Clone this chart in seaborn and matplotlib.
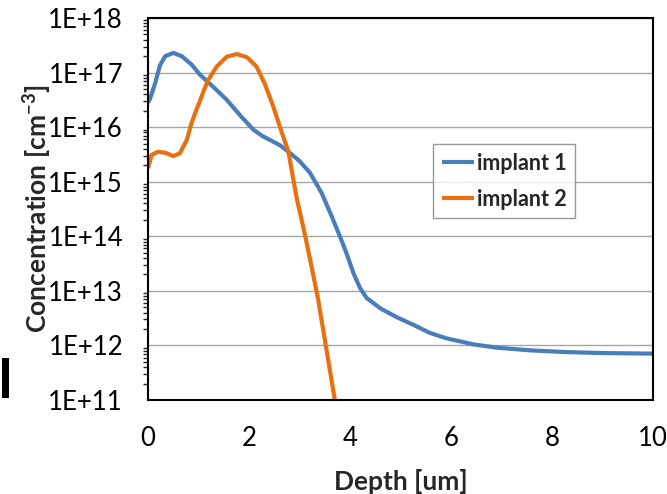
import numpy as np
import pandas as pd
import matplotlib
matplotlib.use("Agg")
import matplotlib.pyplot as plt
from matplotlib.ticker import FuncFormatter, LogLocator, FixedLocator
from matplotlib.patches import Rectangle
import seaborn as sns

# ---- data (concentration as log10 of cm^-3) ----
depth_1 = [0.0, 0.04, 0.14, 0.24, 0.34, 0.50, 0.67, 0.87, 1.03, 1.29, 1.56, 1.82, 2.09, 2.28,
           2.61, 2.78, 3.00, 3.21, 3.44, 3.64, 3.80, 3.93, 4.07, 4.20, 4.33, 4.60, 4.92,
           5.25, 5.58, 5.91, 6.44, 6.90, 7.56, 8.22, 9.00, 10.0]
log_conc_1 = [16.45, 16.52, 16.80, 17.14, 17.30, 17.36, 17.30, 17.14, 16.96, 16.74, 16.50,
              16.22, 15.95, 15.83, 15.67, 15.55, 15.38, 15.16, 14.79, 14.36, 14.00, 13.69,
              13.32, 13.05, 12.87, 12.68, 12.52, 12.38, 12.23, 12.13, 12.02, 11.96, 11.91,
              11.88, 11.86, 11.85]

depth_2 = [0.0, 0.02, 0.07, 0.20, 0.34, 0.50, 0.63, 0.77, 0.86, 0.96, 1.03, 1.10, 1.19, 1.36,
           1.56, 1.76, 1.96, 2.15, 2.31, 2.48, 2.61, 2.78, 2.94, 3.11, 3.24, 3.37, 3.70]
log_conc_2 = [15.25, 15.31, 15.49, 15.55, 15.53, 15.47, 15.52, 15.77, 16.07, 16.32, 16.48,
              16.66, 16.86, 17.11, 17.29, 17.34, 17.28, 17.11, 16.80, 16.38, 16.01, 15.55,
              14.72, 14.02, 13.44, 12.84, 11.0]

series_names = ["implant 1", "implant 2"]
colors = ["#4a7ebb", "#e8700f"]
x_ticks = [0, 2, 4, 6, 8, 10]
y_decades = [1e11, 1e12, 1e13, 1e14, 1e15, 1e16, 1e17, 1e18]

df = pd.concat([
    pd.DataFrame({"Depth": depth_1, "Conc": np.power(10.0, log_conc_1), "series": series_names[0]}),
    pd.DataFrame({"Depth": depth_2, "Conc": np.power(10.0, log_conc_2), "series": series_names[1]}),
], ignore_index=True)

sns.set_style("white")
plt.rcParams["font.family"] = ["Lato", "DejaVu Sans"]
plt.rcParams["mathtext.fontset"] = "custom"
plt.rcParams["mathtext.bf"] = "Lato:bold"
plt.rcParams["mathtext.rm"] = "Lato"

fig = plt.figure(figsize=(6.67, 4.94), dpi=100)
ax = fig.add_axes([148/667, 94/494, 505/667, 382/494])

sns.lineplot(data=df, x="Depth", y="Conc", hue="series", palette=colors,
             sort=False, estimator=None, linewidth=3.0, ax=ax)
for ln in ax.get_lines():
    ln.set_solid_joinstyle("round")
    ln.set_solid_capstyle("butt")

ax.set_yscale("log")
ax.set_xlim(0, 10)
ax.set_ylim(1e11, 1e18)
ax.xaxis.set_major_locator(FixedLocator(x_ticks))
ax.yaxis.set_major_locator(FixedLocator(y_decades))
ax.yaxis.set_minor_locator(LogLocator(base=10, subs=np.arange(2, 10), numticks=20))
ax.yaxis.set_major_formatter(FuncFormatter(lambda v, p: "1E+%d" % int(round(np.log10(v)))))
ax.yaxis.set_minor_formatter(FuncFormatter(lambda v, p: ""))

ax.grid(axis="y", which="major", color="#a6a6a6", linewidth=1.0)
ax.grid(axis="x", visible=False)
for s in ax.spines.values():
    s.set_visible(True)
    s.set_color("black")
    s.set_linewidth(1.5)

ax.tick_params(axis="both", which="major", direction="out", length=6, width=1.5,
               labelsize=18.5, colors="black")
ax.tick_params(axis="y", which="major", pad=12)
ax.tick_params(axis="x", which="major", pad=13)
ax.tick_params(axis="y", which="minor", direction="out", length=3.6, width=1.0, left=True)
ax.tick_params(axis="x", which="minor", bottom=False)

ax.set_xlabel("Depth [um]", fontsize=19, fontweight="bold", labelpad=13)
ax.set_ylabel(r"Concentration [cm$^{\mathbf{-3}}$]", fontsize=19, fontweight="bold", labelpad=-4)

leg = ax.legend(loc="upper left", bbox_to_anchor=((433 - 148) / 505, (400 - 144) / 382),
                borderaxespad=0.0, frameon=True, fancybox=False,
                edgecolor="#808080", handlelength=1.5, handletextpad=0.15,
                borderpad=0.4, labelspacing=0.7, prop={"weight": "bold", "size": 15.5})
leg.get_frame().set_linewidth(1.0)
for h in leg.get_lines():
    h.set_linewidth(3.0)

fig.patches.append(Rectangle((2/667, 96/494), 7/667, 40/494, transform=fig.transFigure,
                             facecolor="black", edgecolor="none"))

fig.savefig("out.png", dpi=100)
